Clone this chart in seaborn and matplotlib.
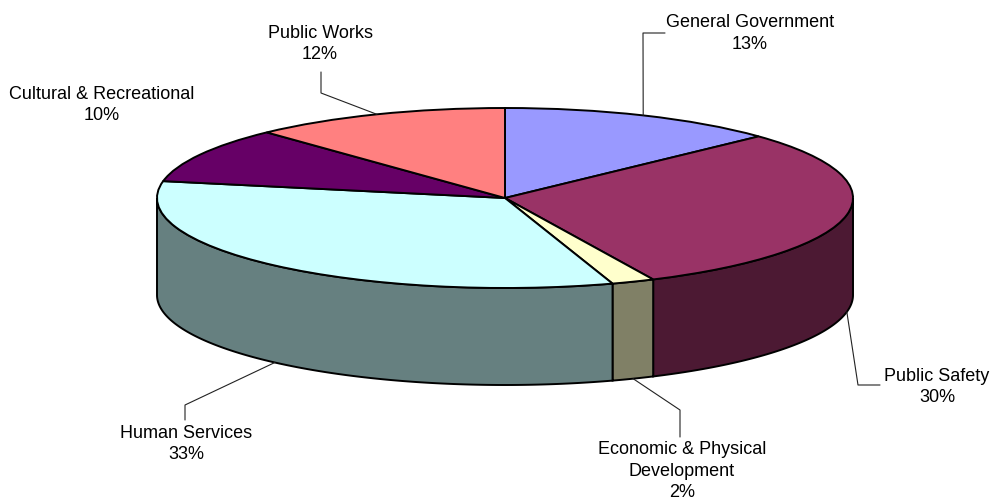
import numpy as np
import matplotlib
matplotlib.use("Agg")
import matplotlib.pyplot as plt
import seaborn as sns
from matplotlib.patches import Polygon

# Budget shares by function, in clockwise order from 12 o'clock
categories = ["General Government", "Public Safety", "Economic & Physical\nDevelopment",
              "Human Services", "Cultural & Recreational", "Public Works"]
shares = [13, 30, 2, 33, 10, 12]
top_colors = ["#9999FF", "#993366", "#FFFFCC", "#CCFFFF", "#660066", "#FF8080"]
side_colors = ["#4C4C80", "#4C1933", "#808066", "#668080", "#330033", "#804040"]

sns.set_theme(style="white")
plt.rcParams["font.family"] = ["Liberation Sans", "DejaVu Sans"]

W, H = 993, 504
fig = plt.figure(figsize=(W / 100, H / 100), dpi=100)
ax = fig.add_axes([0, 0, 1, 1])

# The unit pie is flattened into an ellipse by the axes' non-equal scaling
CX, CY, RX, RY = 505, 198, 348, 90
DEPTH = 97 / RY


def px(x, y):
    """Figure pixel (from top-left) -> data coordinates."""
    return (x - CX) / RX, (CY - y) / RY


frac = np.asarray(shares, dtype=float) / sum(shares)
bounds = np.concatenate([[0.0], np.cumsum(frac)]) * 360.0

# Visible side walls (front half of the disc)
for i, (t0, t1) in enumerate(zip(bounds[:-1], bounds[1:])):
    a, b = max(t0, 90.0), min(t1, 270.0)
    if a >= b:
        continue
    t = np.radians(np.linspace(a, b, 200))
    x, y = np.sin(t), np.cos(t)
    verts = np.column_stack([np.r_[x, x[::-1]], np.r_[y, y[::-1] - DEPTH]])
    ax.add_patch(Polygon(verts, closed=True, facecolor=side_colors[i],
                         edgecolor="black", linewidth=1.4, zorder=1))

# Top face
ax.pie(shares, colors=top_colors, startangle=90, counterclock=False,
       wedgeprops=dict(edgecolor="black", linewidth=1.4, zorder=3))

# Labels with leader lines
label_pos = [(750, 33.5), (937, 387), (682, 471), (186, 444), (102, 105), (320, 44)]
leaders = [
    [(643, 33), (665, 33)],
    [(858, 385), (880, 385)],
    [(680, 410), (680, 437)],
    [(185, 405), (185, 420)],
    [],
    [(321, 93), (321, 72)],
]
for i, (name, share) in enumerate(zip(categories, shares)):
    mid = np.radians((bounds[i] + bounds[i + 1]) / 2)
    ax_, ay_ = np.sin(mid), np.cos(mid)
    if ay_ < 0:
        ay_ -= DEPTH
    if leaders[i]:
        pts = [(ax_, ay_)] + [px(*p) for p in leaders[i]]
        xs, ys = zip(*pts)
        ax.plot(xs, ys, color="#222222", linewidth=0.8, zorder=4)
    tx, ty = px(*label_pos[i])
    ax.text(tx, ty, f"{name}\n{share}%", ha="center", va="center",
            fontsize=13, color="black", linespacing=1.35, zorder=5)

ax.set_aspect("auto")
ax.set_xlim(-CX / RX, (W - CX) / RX)
ax.set_ylim((CY - H) / RY, CY / RY)
ax.axis("off")

fig.savefig("out.png", dpi=100, facecolor="white")
